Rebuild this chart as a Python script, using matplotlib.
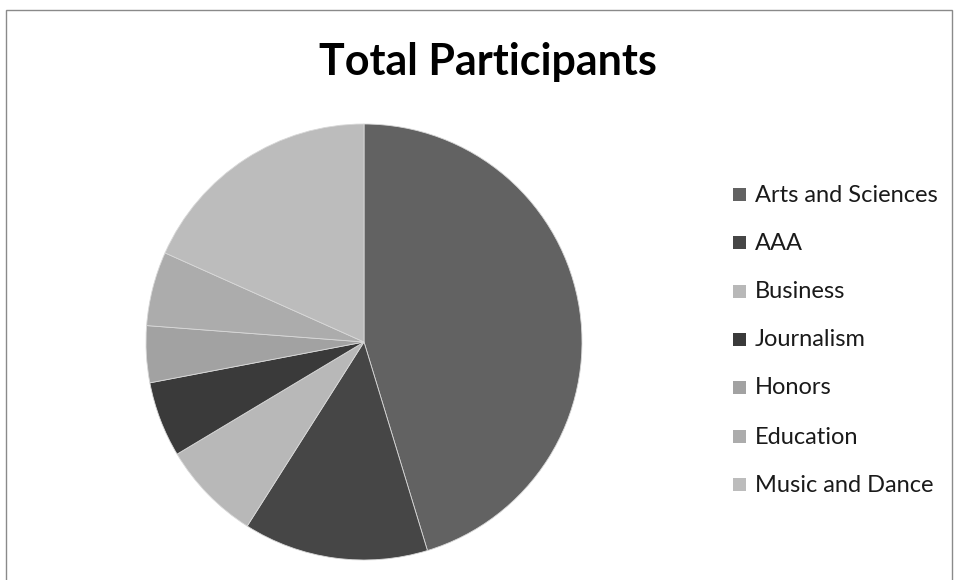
import matplotlib
matplotlib.use("Agg")
import matplotlib.pyplot as plt
from matplotlib.patches import Rectangle

categories = ["Arts and Sciences", "AAA", "Business", "Journalism",
              "Honors", "Education", "Music and Dance"]
values = [453, 137, 74, 56, 42, 55, 183]
colors = ["#626262", "#464646", "#b8b8b8", "#3a3a3a",
          "#a2a2a2", "#acacac", "#bcbcbc"]
title = "Total Participants"

W, H = 958, 580
fig = plt.figure(figsize=(W / 100, H / 100), dpi=100)
fig.patch.set_facecolor("white")

# chart frame
fig.patches.append(Rectangle((6 / W, -0.05), (952 - 6) / W, 1 - 10 / H + 0.05,
                             transform=fig.transFigure, fill=False,
                             edgecolor="#8a8a8a", linewidth=1.0))

cx, cy, r = 364, 342, 218
ax = fig.add_axes([(cx - r) / W, (H - cy - r) / H, 2 * r / W, 2 * r / H])
wedges, _ = ax.pie(values, colors=colors, startangle=90, counterclock=False,
                   radius=1, wedgeprops=dict(linewidth=0.6, edgecolor="#d8d8d8"))
ax.set_xlim(-1, 1)
ax.set_ylim(-1, 1)
ax.axis("off")

fig.text(488 / W, 1 - 62 / H, title, ha="center", va="center",
         fontsize=31, fontweight="bold", family=["Lato", "DejaVu Sans"])

rows = [195, 243, 292, 340, 388, 437, 485]
for lab, col, y in zip(categories, colors, rows):
    fig.patches.append(Rectangle((733 / W, 1 - (y + 6) / H), 13 / W, 13 / H,
                                 transform=fig.transFigure, facecolor=col,
                                 edgecolor="none"))
    fig.text(755 / W, 1 - y / H, lab, ha="left", va="center",
             fontsize=17, family=["Lato", "DejaVu Sans"], color="#1a1a1a")

fig.savefig("out.png", dpi=100, facecolor="white")
